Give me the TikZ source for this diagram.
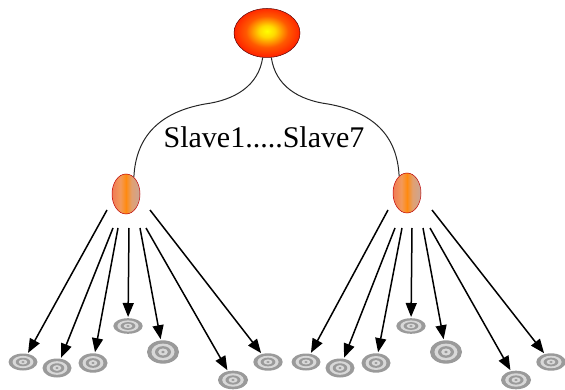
\documentclass[tikz,border=0pt]{standalone}
\usepackage{fontspec}
\setmainfont{Liberation Serif}
\usetikzlibrary{arrows.meta,shapes.geometric,calc}

% master ball: small yellow core, red body, dark red rim
\pgfdeclareradialshading{masterball}{\pgfpoint{0bp}{2bp}}{%
  color(0bp)=(yellow);
  color(6bp)=(yellow!70!orange);
  color(16bp)=(orange!70!red);
  color(28bp)=(red!85!orange);
  color(40bp)=(red!85!black);
  color(50bp)=(red!50!black)}
% slave ball: salmon on the left, an orange stripe, greyish on the right
\definecolor{slvA}{HTML}{F07A55}
\definecolor{slvB}{HTML}{F39A5A}
\definecolor{slvC}{HTML}{FF8A10}
\definecolor{slvD}{HTML}{E2A070}
\definecolor{slvE}{HTML}{C9A596}
\pgfdeclarehorizontalshading{slaveball}{100bp}{%
  color(0bp)=(slvA); color(25bp)=(slvA); color(40bp)=(slvB);
  color(50bp)=(slvC); color(60bp)=(slvD); color(75bp)=(slvE);
  color(100bp)=(slvE)}
\definecolor{ringdark}{HTML}{9A9A9A}
\definecolor{ringlight}{HTML}{D8D8D8}

\tikzset{
  master/.style={ellipse, minimum width=66pt, minimum height=49pt,
    inner sep=0pt, shading=masterball, draw=red!35!black, line width=0.5pt},
  slave/.style={ellipse, minimum width=28pt, minimum height=40pt,
    inner sep=0pt, shading=slaveball, draw=red!75!black, line width=0.5pt},
  leaf/.style 2 args={ellipse, minimum width=2*#1pt, minimum height=2*#2pt,
    inner sep=0pt, fill=ringdark,
    path picture={
      \fill[ringlight] (path picture bounding box.center)
        ellipse [x radius={0.72*#1pt}, y radius={0.72*#2pt}];
      \fill[ringdark] (path picture bounding box.center)
        ellipse [x radius={0.5*#1pt}, y radius={0.5*#2pt}];
      \fill[ringlight] (path picture bounding box.center)
        ellipse [x radius={0.3*#1pt}, y radius={0.3*#2pt}];
      \fill[ringdark] (path picture bounding box.center)
        ellipse [x radius={0.12*#1pt}, y radius={0.12*#2pt}];
    }},
  link/.style={draw=black!85, line width=1pt},
  push/.style={draw=black, line width=1.5pt,
    -{Triangle[length=14pt,width=11pt]}},
  caption/.style={font=\fontsize{30}{36}\selectfont, inner sep=0pt}
}

\begin{document}
\begin{tikzpicture}[x=1pt,y=-1pt]
\useasboundingbox (0,0) rectangle (565,390);

% master and the two slave groups
\node[master] (M) at (267,33) {};
\node[slave] (L) at (126,194) {};
\node[slave] (R) at (407,193) {};

% S-shaped links from the master down to each slave
\coordinate (lk) at (205,104);
\coordinate (rk) at (328,104);
\draw[link] (M.-100) .. controls +(-4,28) and +(30,-4) .. (lk)
                     .. controls +(-45,8) and +(2,-41) .. (L.65);
\draw[link] (M.-80) .. controls +(4,28) and +(-30,-4) .. (rk)
                    .. controls +(45,8) and +(-2,-41) .. (R.115);

\node[caption] (lbl) at (264,137) {Slave1.....Slave7};

% leaves of the left slave
\node[leaf={14.5}{8.5}]  (l1) at (23,362) {};
\node[leaf={14.5}{9.5}]  (l2) at (57,368) {};
\node[leaf={14.5}{9.7}]  (l3) at (93,363) {};
\node[leaf={14.7}{7.8}]  (l4) at (128,326) {};
\node[leaf={16}{11.7}]   (l5) at (163,352) {};
\node[leaf={15}{9.3}]    (l6) at (233,380) {};
\node[leaf={14.7}{8.7}]  (l7) at (268,362) {};

% leaves of the right slave
\node[leaf={14.5}{8.5}]  (r1) at (306,362) {};
\node[leaf={14.5}{9.5}]  (r2) at (340,368) {};
\node[leaf={14.5}{9.7}]  (r3) at (376,363) {};
\node[leaf={14.7}{7.8}]  (r4) at (411,326) {};
\node[leaf={16}{11.7}]   (r5) at (446,352) {};
\node[leaf={15}{9.3}]    (r6) at (516,380) {};
\node[leaf={14.7}{8.7}]  (r7) at (551,362) {};

% arrow origins under each slave
\coordinate (la1) at ($(L)+(-19,16)$);
\coordinate (la2) at ($(L)+(-13,34)$);
\coordinate (la3) at ($(L)+(-8,34)$);
\coordinate (la4) at ($(L)+(3,34)$);
\coordinate (la5) at ($(L)+(14,34)$);
\coordinate (la6) at ($(L)+(20,34)$);
\coordinate (la7) at ($(L)+(24,16)$);
\coordinate (ra1) at ($(R)+(-19,17)$);
\coordinate (ra2) at ($(R)+(-12,35)$);
\coordinate (ra3) at ($(R)+(-5,35)$);
\coordinate (ra4) at ($(R)+(5,35)$);
\coordinate (ra5) at ($(R)+(16,35)$);
\coordinate (ra6) at ($(R)+(23,35)$);
\coordinate (ra7) at ($(R)+(25,17)$);

\foreach \i in {1,...,7} {
  \draw[push, shorten >=1pt] (la\i) -- (l\i);
  \draw[push, shorten >=1pt] (ra\i) -- (r\i);
}
\end{tikzpicture}
\end{document}
